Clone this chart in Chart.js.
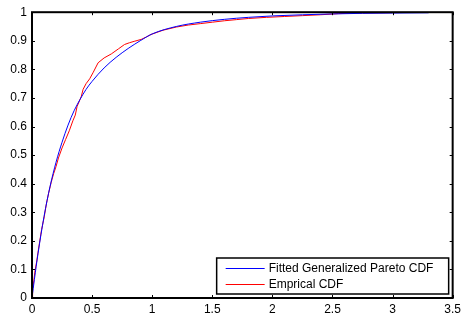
<!DOCTYPE html>
<html><head><meta charset="utf-8">
<script src="https://cdn.jsdelivr.net/npm/chart.js@4"></script>
<style>html,body{margin:0;padding:0;background:#fff}canvas{display:block}</style>
</head><body>
<canvas id="c" width="465" height="323"></canvas>
<script>
const seriesLabels = ['Fitted Generalized Pareto CDF', 'Emprical CDF'];
const xTickLabels = ['0','0.5','1','1.5','2','2.5','3','3.5'];
const yTickLabels = ['0','0.1','0.2','0.3','0.4','0.5','0.6','0.7','0.8','0.9','1'];

const fittedX = [0, 0.02, 0.05, 0.1, 0.15, 0.2, 0.25, 0.3, 0.35, 0.4, 0.45, 0.5, 0.6, 0.7, 0.8, 0.9, 1.0, 1.2, 1.4, 1.6, 1.8, 2.0, 2.25, 2.5, 2.75, 3.0, 3.3];
const fittedY = [0, 0.065, 0.155, 0.285, 0.39, 0.475, 0.545, 0.605, 0.655, 0.695, 0.73, 0.758, 0.805, 0.842, 0.873, 0.9, 0.924, 0.95, 0.965, 0.975, 0.982, 0.987, 0.991, 0.994, 0.996, 0.997, 0.998];

const empiricalX = [0, 0.005, 0.015, 0.025, 0.04, 0.05, 0.065, 0.08, 0.1, 0.12, 0.14, 0.16, 0.18, 0.2, 0.22, 0.25, 0.28, 0.31, 0.34, 0.36, 0.375, 0.395, 0.41, 0.425, 0.45, 0.48, 0.51, 0.55, 0.6, 0.66, 0.72, 0.77, 0.81, 0.85, 0.91, 0.95, 0.99, 1.09, 1.2, 1.3, 1.4, 1.5, 1.6, 1.7, 1.8, 1.95, 2.1, 2.25, 2.4, 2.55, 2.7, 2.9, 3.1, 3.28];
const empiricalY = [0, 0.03, 0.06, 0.095, 0.13, 0.16, 0.2, 0.24, 0.28, 0.33, 0.37, 0.405, 0.435, 0.46, 0.49, 0.525, 0.555, 0.585, 0.62, 0.64, 0.67, 0.69, 0.705, 0.73, 0.75, 0.767, 0.79, 0.823, 0.84, 0.854, 0.872, 0.887, 0.893, 0.898, 0.905, 0.913, 0.922, 0.937, 0.948, 0.955, 0.96, 0.965, 0.97, 0.974, 0.978, 0.982, 0.985, 0.988, 0.991, 0.995, 0.997, 0.998, 0.999, 1.0];

const FONT = "'Liberation Sans', Arial, sans-serif";

const boxPlugin = {
  id: 'matlabBox',
  afterDraw(chart) {
    const ctx = chart.ctx;
    const a = chart.chartArea;
    const xs = chart.scales.x, ys = chart.scales.y;
    ctx.save();
    ctx.strokeStyle = '#000';
    ctx.lineWidth = 1;
    const tl = 3;
    ctx.beginPath();
    xs.ticks.forEach(t => {
      const px = Math.round(xs.getPixelForValue(t.value)) + 0.5;
      ctx.moveTo(px, a.bottom); ctx.lineTo(px, a.bottom - tl);
      ctx.moveTo(px, a.top); ctx.lineTo(px, a.top + tl);
    });
    ys.ticks.forEach(t => {
      const py = Math.round(ys.getPixelForValue(t.value)) + 0.5;
      ctx.moveTo(a.left, py); ctx.lineTo(a.left + tl, py);
      ctx.moveTo(a.right, py); ctx.lineTo(a.right - tl, py);
    });
    ctx.stroke();
    ctx.lineWidth = 2;
    ctx.strokeRect(a.left, a.top, a.right - a.left, a.bottom - a.top);

    // legend
    const lw = 232, lh = 36;
    const lx = a.right - 4 - lw, ly = a.bottom - 4 - lh;
    ctx.fillStyle = '#fff';
    ctx.fillRect(lx, ly, lw, lh);
    ctx.lineWidth = 1.5;
    ctx.strokeRect(lx, ly, lw, lh);
    ctx.font = '12px ' + FONT;
    ctx.textBaseline = 'middle';
    ctx.textAlign = 'left';
    chart.data.datasets.forEach((ds, i) => {
      const y = ly + 10 + i * 16;
      ctx.strokeStyle = ds.borderColor;
      ctx.lineWidth = 1;
      ctx.beginPath();
      ctx.moveTo(lx + 9, y + 0.5); ctx.lineTo(lx + 48, y + 0.5);
      ctx.stroke();
      ctx.fillStyle = '#000';
      ctx.fillText(ds.label, lx + 52, y + 1);
    });
    ctx.restore();
  }
};

new Chart(document.getElementById('c'), {
  type: 'line',
  data: {
    datasets: [
      {
        label: seriesLabels[0],
        data: fittedX.map((x, i) => ({x, y: fittedY[i]})),
        borderColor: '#0000ff',
        borderWidth: 1,
        pointRadius: 0,
        cubicInterpolationMode: 'monotone',
        fill: false
      },
      {
        label: seriesLabels[1],
        data: empiricalX.map((x, i) => ({x, y: empiricalY[i]})),
        borderColor: '#ff0000',
        borderWidth: 1,
        pointRadius: 0,
        tension: 0,
        fill: false
      }
    ]
  },
  options: {
    responsive: false,
    animation: false,
    layout: { padding: { top: 6, right: 10, left: 0, bottom: 0 } },
    plugins: { legend: { display: false }, tooltip: { enabled: false } },
    scales: {
      x: {
        type: 'linear', min: 0, max: 3.5,
        grid: { display: false, drawTicks: false },
        border: { display: false },
        afterFit(s) { s.height = 25; },
        ticks: {
          stepSize: 0.5, padding: 4, color: '#000', maxRotation: 0,
          font: { family: FONT, size: 12 },
          callback: (v) => { const i = Math.round(v / 0.5); return xTickLabels[i]; }
        }
      },
      y: {
        type: 'linear', min: 0, max: 1,
        grid: { display: false, drawTicks: false },
        border: { display: false },
        afterFit(s) { s.width = 32; },
        ticks: {
          stepSize: 0.1, padding: 5, color: '#000',
          font: { family: FONT, size: 12 },
          callback: (v) => { const i = Math.round(v / 0.1); return yTickLabels[i]; }
        }
      }
    }
  },
  plugins: [boxPlugin]
});
</script>
</body></html>
